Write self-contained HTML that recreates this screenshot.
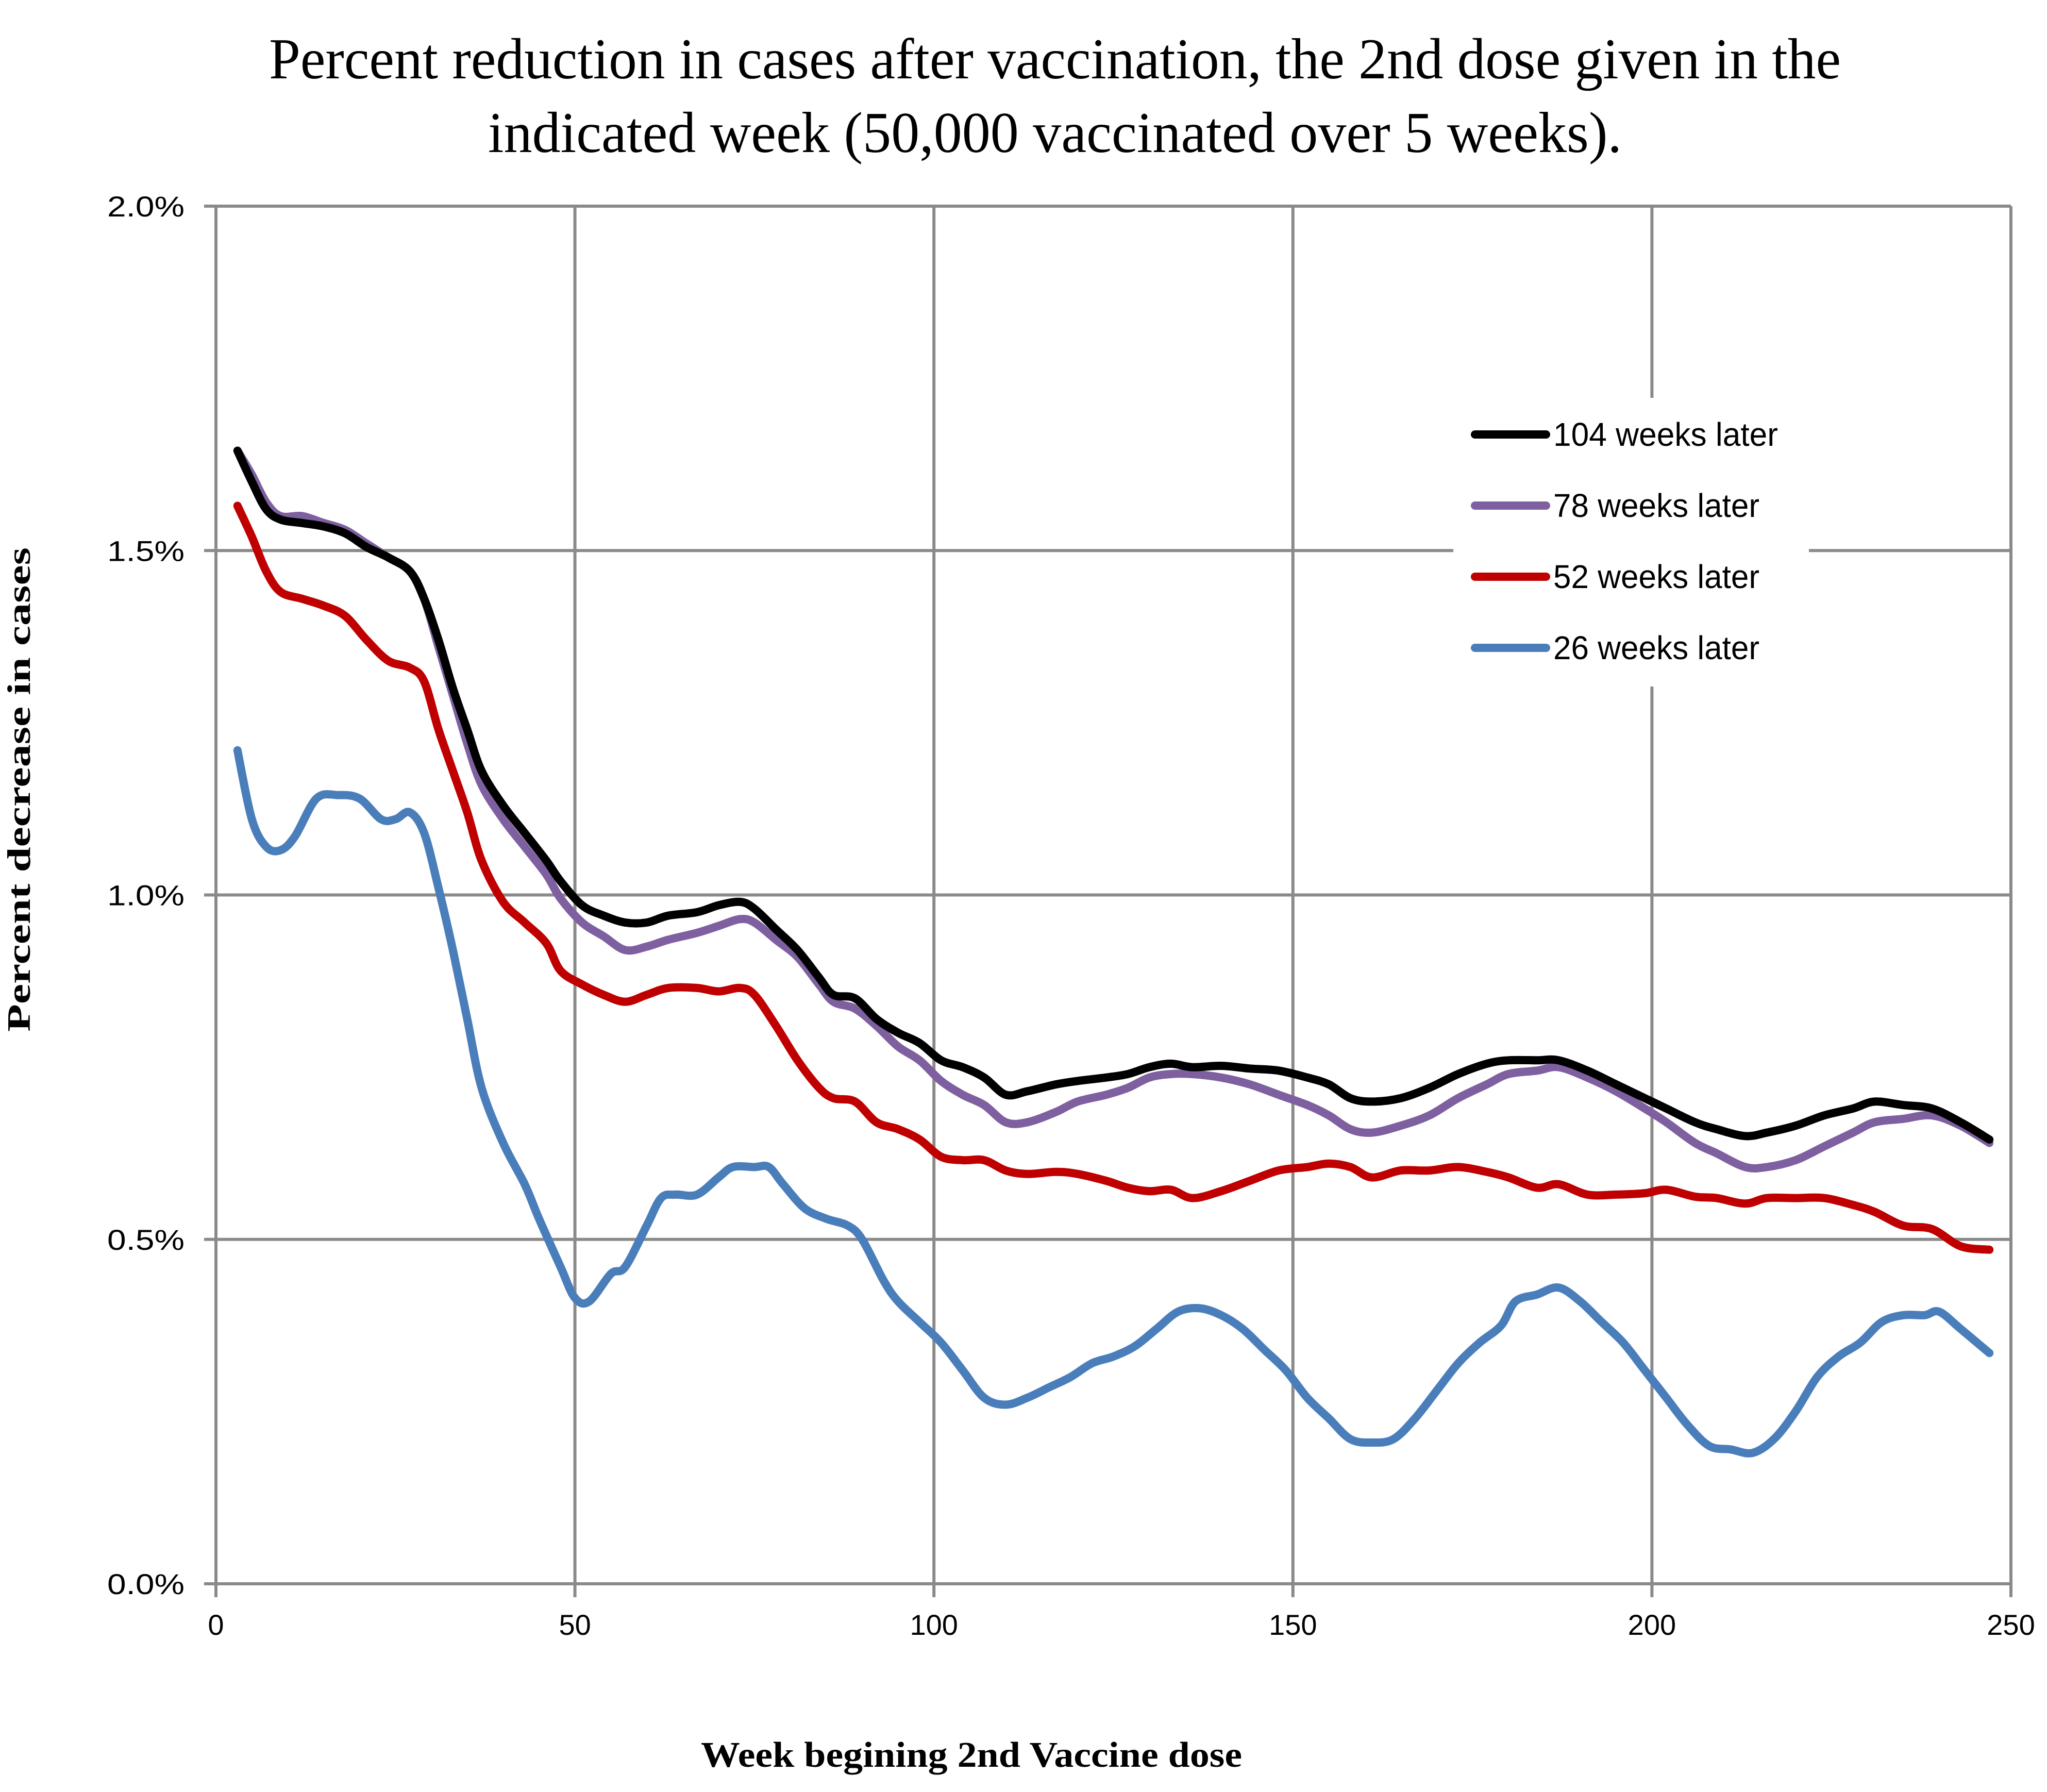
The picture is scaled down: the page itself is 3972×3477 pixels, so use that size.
<!DOCTYPE html>
<html><head><meta charset="utf-8"><style>
html,body{margin:0;padding:0;background:#fff}
svg{display:block}
</style></head><body>
<svg id="chart" width="3972" height="3477" viewBox="0 0 3972 3477" xmlns="http://www.w3.org/2000/svg">
<rect width="3972" height="3477" fill="#fff"/>
<g font-family="'Liberation Serif',serif" font-size="112" text-anchor="middle" fill="#000">
<text x="2047" y="152" textLength="3050" lengthAdjust="spacingAndGlyphs">Percent reduction in cases after vaccination, the 2nd dose given in the</text>
<text x="2047" y="295" textLength="2200" lengthAdjust="spacingAndGlyphs">indicated week (50,000 vaccinated over 5 weeks).</text>
</g>
<g id="grid"></g>
<g id="yticks" font-family="'Liberation Sans Narrow','Liberation Sans',sans-serif" font-size="56" text-anchor="end" fill="#000"></g>
<g id="xticks" font-family="'Liberation Sans Narrow','Liberation Sans',sans-serif" font-size="56" text-anchor="middle" fill="#000"></g>
<text transform="translate(58,1532) rotate(-90)" font-family="'Liberation Serif',serif" font-weight="bold" font-size="64" text-anchor="middle" textLength="940" lengthAdjust="spacingAndGlyphs">Percent  decrease in cases</text>
<text x="1885" y="3428" font-family="'Liberation Serif',serif" font-weight="bold" font-size="70" text-anchor="middle" textLength="1050" lengthAdjust="spacingAndGlyphs">Week begining 2nd Vaccine dose</text>
<g id="series"></g>
<g id="legend"></g>
</svg>
<script>
const xTicks=[0,50,100,150,200,250];
const yTicks=[0,0.5,1.0,1.5,2.0];
const seriesNames=["104 weeks later","78 weeks later","52 weeks later","26 weeks later"];
const seriesColors=["#000000","#7e60a0","#c00000","#4a7ebb"];
const wBlack=[3,5,7,9,12,15,18,21,24,27,29,31,33,35,37,40,43,46,48,51,54,57,60,63,67,70,73,75,78,81,84,86,89,92,95,98,101,104,107,110,113,117,120,124,127,130,133,136,140,144,148,152,155,158,161,165,169,173,177,180,184,187,191,195,199,202,206,209,213,216,220,224,228,231,235,239,243,247];
const vBlack=[1.645,1.60,1.56,1.545,1.54,1.535,1.525,1.505,1.49,1.47,1.43,1.37,1.30,1.24,1.18,1.13,1.09,1.05,1.02,0.985,0.97,0.96,0.96,0.97,0.975,0.985,0.99,0.98,0.95,0.92,0.88,0.855,0.85,0.82,0.80,0.785,0.76,0.75,0.735,0.71,0.715,0.725,0.73,0.735,0.74,0.75,0.755,0.75,0.752,0.748,0.745,0.735,0.725,0.705,0.70,0.705,0.72,0.74,0.755,0.76,0.76,0.76,0.745,0.725,0.705,0.69,0.67,0.66,0.65,0.655,0.665,0.68,0.69,0.70,0.695,0.69,0.67,0.645];
const vPurple=[1.645,1.61,1.57,1.55,1.55,1.54,1.53,1.51,1.49,1.47,1.43,1.36,1.29,1.22,1.16,1.11,1.07,1.03,0.995,0.96,0.94,0.92,0.925,0.935,0.945,0.955,0.965,0.96,0.935,0.91,0.87,0.845,0.835,0.81,0.78,0.76,0.73,0.71,0.695,0.67,0.67,0.685,0.70,0.71,0.72,0.735,0.74,0.74,0.735,0.725,0.71,0.695,0.68,0.66,0.655,0.665,0.68,0.705,0.725,0.74,0.745,0.75,0.735,0.715,0.69,0.67,0.64,0.625,0.605,0.605,0.615,0.635,0.655,0.67,0.675,0.68,0.665,0.64];
const vRed=[1.565,1.52,1.47,1.44,1.43,1.42,1.405,1.37,1.34,1.33,1.31,1.24,1.18,1.12,1.05,0.99,0.96,0.93,0.89,0.87,0.855,0.845,0.855,0.865,0.865,0.86,0.865,0.855,0.81,0.76,0.72,0.705,0.70,0.67,0.66,0.645,0.62,0.615,0.615,0.60,0.595,0.598,0.595,0.585,0.575,0.57,0.572,0.56,0.57,0.585,0.60,0.605,0.61,0.605,0.59,0.60,0.60,0.605,0.598,0.59,0.575,0.58,0.565,0.565,0.567,0.572,0.562,0.56,0.552,0.56,0.56,0.56,0.55,0.54,0.52,0.515,0.49,0.485];
const wBlue=[3,5,7,9,11,14,17,20,23,25,27,29,31,33,35,37,40,43,45,48,50,52,55,57,60,62,64,67,70,72,75,77,79,82,85,88,90,93,95,98,101,104,107,110,113,116,119,122,125,128,131,134,137,140,143,146,149,152,155,158,161,164,167,170,173,176,179,181,184,187,190,193,196,199,202,205,208,211,214,217,220,223,226,229,232,235,238,240,243,247];
const vBlue=[1.21,1.11,1.07,1.065,1.085,1.14,1.145,1.14,1.11,1.11,1.12,1.09,1.01,0.92,0.82,0.72,0.64,0.58,0.53,0.46,0.415,0.41,0.45,0.46,0.52,0.56,0.565,0.565,0.59,0.605,0.605,0.605,0.58,0.545,0.53,0.52,0.50,0.44,0.41,0.38,0.35,0.31,0.27,0.26,0.27,0.285,0.30,0.32,0.33,0.345,0.37,0.395,0.40,0.39,0.37,0.34,0.31,0.27,0.24,0.21,0.205,0.21,0.24,0.28,0.32,0.35,0.375,0.41,0.42,0.43,0.41,0.38,0.35,0.31,0.27,0.23,0.20,0.195,0.19,0.21,0.25,0.30,0.33,0.35,0.38,0.39,0.39,0.395,0.37,0.335];

const X0=419,X1=3902,Y0=3073,Y1=400;
const sx=w=>X0+(w-0)/(250-0)*(X1-X0);
const sy=v=>Y0-(v-0)/(2-0)*(Y0-Y1);
const NS="http://www.w3.org/2000/svg";
function mk(tag,attrs,parent){const e=document.createElementNS(NS,tag);for(const k in attrs)e.setAttribute(k,attrs[k]);parent.appendChild(e);return e;}
const grid=document.getElementById('grid');
yTicks.forEach(t=>{
  const l=mk('line',{x1:396,x2:X1,y1:sy(t),y2:sy(t),stroke:'#8a8a8a','stroke-width':6},grid);
  
  
  const tx=mk('text',{x:358,y:sy(t)+20,textLength:150,lengthAdjust:'spacingAndGlyphs'},document.getElementById('yticks'));
  tx.textContent=t.toFixed(1)+'%';
  
  
});
xTicks.forEach(t=>{
  const l=mk('line',{x1:sx(t),x2:sx(t),y1:Y1,y2:3099,stroke:'#8a8a8a','stroke-width':6},grid);
  
  
  const tx=mk('text',{x:sx(t),y:3172},document.getElementById('xticks'));
  tx.textContent=String(t);
  
  
});
function smooth(ws,vs){
  const p=ws.map((w,i)=>[sx(w),sy(vs[i])]);
  let d='M'+p[0][0].toFixed(1)+','+p[0][1].toFixed(1);
  for(let i=0;i<p.length-1;i++){
    const a=p[i-1]||p[i],b=p[i],c=p[i+1],e=p[i+2]||c;
    const c1=[b[0]+(c[0]-a[0])/6,b[1]+(c[1]-a[1])/6],c2=[c[0]-(e[0]-b[0])/6,c[1]-(e[1]-b[1])/6];
    d+='C'+c1[0].toFixed(1)+','+c1[1].toFixed(1)+' '+c2[0].toFixed(1)+','+c2[1].toFixed(1)+' '+c[0].toFixed(1)+','+c[1].toFixed(1);
  }
  return d;
}
const sg=document.getElementById('series');
const order=[[wBlue,vBlue,3,'series-26-weeks'],[wBlack,vRed,2,'series-52-weeks'],[wBlack,vPurple,1,'series-78-weeks'],[wBlack,vBlack,0,'series-104-weeks']];
order.forEach(o=>{
  const p=mk('path',{d:smooth(o[0],o[1]),fill:'none',stroke:seriesColors[o[2]],'stroke-width':16,'stroke-linejoin':'round','stroke-linecap':'round'},sg);
  
  
});
const lg=document.getElementById('legend');
mk('rect',{x:2820,y:772,width:690,height:560,fill:'#fff'},lg);
seriesNames.forEach((n,i)=>{
  const y=843+i*138;
  const g=mk('g',{},lg);
  
  
  mk('line',{x1:2862,x2:3000,y1:y,y2:y,stroke:seriesColors[i],'stroke-width':16,'stroke-linecap':'round'},g);
  const t=mk('text',{x:3014,y:y+22,'font-family':"'Liberation Sans Narrow','Liberation Sans',sans-serif",'font-size':64,fill:'#000',textLength:(i===0?436:400),lengthAdjust:'spacingAndGlyphs'},g);
  t.textContent=n;
});
</script>
</body></html>
